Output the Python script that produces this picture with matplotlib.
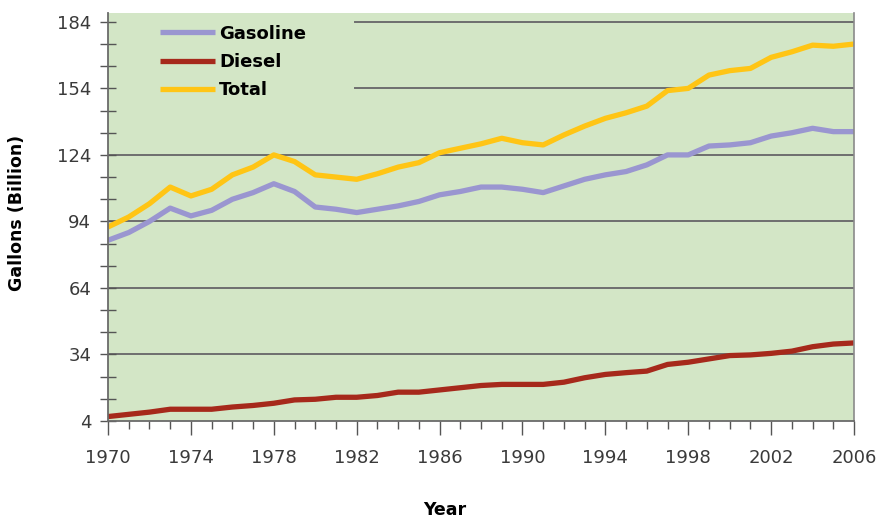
import matplotlib.pyplot as plt
from matplotlib.ticker import MultipleLocator, FixedLocator

years = list(range(1970, 2007))

gasoline = [85.5, 89, 94, 100, 96.5, 99, 104, 107, 111, 107.5,
            100.5, 99.5, 98, 99.5, 101, 103, 106, 107.5, 109.5, 109.5,
            108.5, 107, 110, 113, 115, 116.5, 119.5, 124, 124, 128,
            128.5, 129.5, 132.5, 134, 136, 134.5, 134.5]

diesel = [6, 7, 8, 9.3, 9.3, 9.3, 10.3, 11, 12, 13.5,
          13.8, 14.7, 14.7, 15.5, 17, 17, 18, 19, 20, 20.5,
          20.5, 20.5, 21.5, 23.5, 25, 25.8, 26.5, 29.5, 30.5, 32,
          33.5, 33.8, 34.5, 35.5, 37.5, 38.7, 39.2]

total = [91.5, 96, 102, 109.5, 105.5, 108.5, 115, 118.5, 124, 121,
         115, 114, 113, 115.5, 118.5, 120.5, 125, 127, 129, 131.5,
         129.5, 128.5, 133, 137, 140.5, 143, 146, 153, 154, 160,
         162, 163, 168, 170.5, 173.5, 173, 174]

y_ticks = [4, 34, 64, 94, 124, 154, 184]
x_ticks = list(range(1970, 2007, 4))

green = '#d3e6c6'

fig = plt.figure(figsize=(8.79, 5.20), dpi=100)
ax = fig.add_axes([0.1229, 0.1904, 0.8487, 0.7846])
ax.set_facecolor(green)

ax.plot(years, gasoline, color='#9a96d0', lw=3.8, label='Gasoline', solid_capstyle='butt')
ax.plot(years, diesel, color='#a6291b', lw=3.8, label='Diesel', solid_capstyle='butt')
ax.plot(years, total, color='#ffc515', lw=3.8, label='Total', solid_capstyle='butt')

ax.set_xlim(1970, 2006)
ax.set_ylim(4, 188)
ax.set_yticks(y_ticks)
ax.set_xticks(x_ticks)
ax.yaxis.set_minor_locator(FixedLocator(list(range(14, 185, 10))))
ax.xaxis.set_minor_locator(MultipleLocator(1))

# grid lines; the two top ones stop where the legend area ends
for yv in y_ticks[1:]:
    start = 0.331 if yv >= 154 else 0
    ax.axhline(yv, xmin=start, color='#6e6e6e', lw=1.4, zorder=1)

ax.spines['top'].set_visible(False)
for s in ['left', 'bottom']:
    ax.spines[s].set_color('#6a6a6a')
    ax.spines[s].set_linewidth(1.3)
ax.spines['right'].set_color('#8a8a8a')
ax.spines['right'].set_linewidth(1.2)

ax.tick_params(axis='y', which='major', direction='inout', length=12, width=1, color='#555555',
               labelsize=13, labelcolor='#3a3a3a', pad=6)
ax.tick_params(axis='y', which='minor', direction='inout', length=12, width=1, color='#555555')
ax.tick_params(axis='x', which='major', direction='out', length=10, width=1, color='#555555',
               labelsize=13, labelcolor='#3a3a3a', pad=10)
ax.tick_params(axis='x', which='minor', direction='out', length=6, width=1, color='#555555')

fig.text(0.0193, 0.590, 'Gallons (Billion)', rotation=90, fontsize=12.5, fontweight='bold',
         ha='center', va='center')
fig.text(0.506, 0.019, 'Year', fontsize=12.5, fontweight='bold', ha='center', va='center')

ax.legend(loc='upper left', bbox_to_anchor=(0.063, 0.785, 0.268, 0.2), mode='expand',
          frameon=False, prop={'weight': 'bold', 'size': 13}, handlelength=3.0,
          handletextpad=0.25, labelspacing=0.58, borderpad=0.3, borderaxespad=0)

fig.savefig('out.png', dpi=100)
